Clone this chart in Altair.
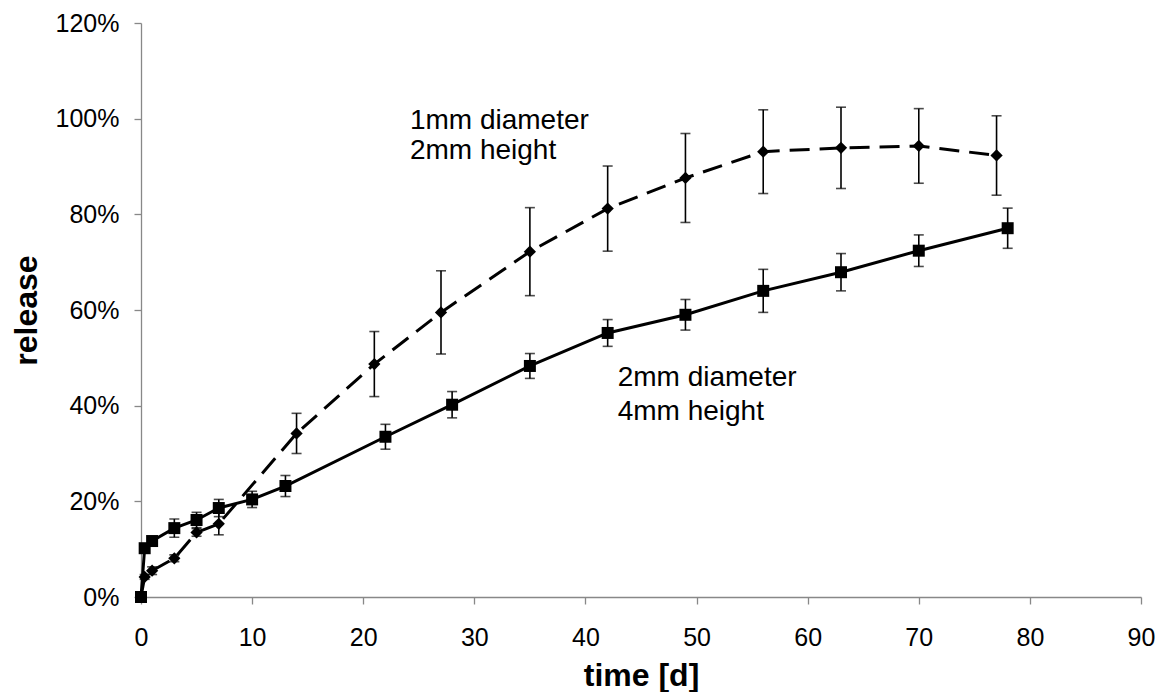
import altair as alt
import pandas as pd

# 2 mm diameter / 4 mm height  (squares, solid line)
t_sq = [0, 0.33, 1, 3, 5, 7, 10, 13, 22, 28, 35, 42, 49, 56, 63, 70, 78]
r_sq = [0, 10.2, 11.7, 14.4, 16.1, 18.6, 20.4, 23.2, 33.5, 40.2, 48.3, 55.2, 59.0, 64.0, 67.9, 72.4, 77.1]
e_sq = [0, 0.5, 0.5, 1.9, 1.6, 1.8, 1.7, 2.2, 2.6, 2.75, 2.6, 2.8, 3.2, 4.5, 3.9, 3.3, 4.2]

# 1 mm diameter / 2 mm height  (diamonds, dashed line)
t_di = [0, 0.33, 1, 3, 5, 7, 14, 21, 27, 35, 42, 49, 56, 63, 70, 77]
r_di = [0, 4.2, 5.5, 8.1, 13.5, 15.3, 34.2, 48.7, 59.5, 72.2, 81.2, 87.6, 93.1, 93.9, 94.3, 92.3]
e_di = [0, 0.5, 0.8, 0.7, 0.8, 2.3, 4.2, 6.8, 8.7, 9.2, 8.9, 9.3, 8.75, 8.5, 7.8, 8.3]

x_ticks = list(range(0, 100, 10))
y_ticks = list(range(0, 140, 20))

# annotation labels and their anchors in data units
ann_text = ["1mm diameter", "2mm height", "2mm diameter", "4mm height"]
ann_x = [24.2, 24.2, 42.9, 42.9]
ann_y = [97.8, 91.6, 44.1, 36.9]

rows = []
for s, ts, rs, es in (("sq", t_sq, r_sq, e_sq), ("di", t_di, r_di, e_di)):
    for t, r, e in zip(ts, rs, es):
        rows.append({"series": s, "t": t, "r": r, "lo": r - e, "hi": r + e})
df = pd.DataFrame(rows)
ann = pd.DataFrame({"label": ann_text, "ax": ann_x, "ay": ann_y})

FONT = "Liberation Sans"
xscale = alt.Scale(domain=[0, 90], nice=False, zero=True)
yscale = alt.Scale(domain=[0, 120], nice=False)
xaxis = alt.Axis(values=x_ticks, title="time [d]", labelPadding=21, labelFlush=False,
                 titleY=88, titleBaseline="alphabetic")
yaxis = alt.Axis(values=y_ticks, title="release", labelExpr="datum.value + '%'",
                 labelPadding=15, labelFlush=False, titleX=-105, titleY=287,
                 titleAngle=-90, titleBaseline="alphabetic", titleAlign="center")


def X(field):
    return alt.X(field, scale=xscale, axis=xaxis, title="time [d]")


def Y(field):
    return alt.Y(field, scale=yscale, axis=yaxis, title="release")


base = alt.Chart(df)

err = base.mark_rule(color="black", strokeWidth=1.6).encode(
    x=X("t:Q"), y=Y("lo:Q"), y2="hi:Q")
cap_lo = base.mark_tick(color="black", orient="horizontal", size=10, thickness=1.6).encode(
    x=X("t:Q"), y=Y("lo:Q"))
cap_hi = base.mark_tick(color="black", orient="horizontal", size=10, thickness=1.6).encode(
    x=X("t:Q"), y=Y("hi:Q"))

line_sq = base.transform_filter(alt.datum.series == "sq").mark_line(
    color="black", strokeWidth=3).encode(x=X("t:Q"), y=Y("r:Q"))
line_di = base.transform_filter(alt.datum.series == "di").mark_line(
    color="black", strokeWidth=3, strokeDash=[20, 10]).encode(x=X("t:Q"), y=Y("r:Q"))

pts_sq = base.transform_filter(alt.datum.series == "sq").mark_point(
    shape="square", filled=True, color="black", opacity=1, size=144).encode(
    x=X("t:Q"), y=Y("r:Q"))
pts_di = base.transform_filter(alt.datum.series == "di").mark_point(
    shape="diamond", filled=True, color="black", opacity=1, size=150).encode(
    x=X("t:Q"), y=Y("r:Q"))

labels = alt.Chart(ann).mark_text(
    align="left", baseline="alphabetic", font=FONT, fontSize=28, color="black").encode(
    x=X("ax:Q"), y=Y("ay:Q"), text="label:N")

chart = alt.layer(err, cap_lo, cap_hi, line_di, line_sq, pts_di, pts_sq, labels).properties(
    width=1000, height=574,
    autosize=alt.AutoSizeParams(type="none"),
    padding={"left": 133, "top": 15, "right": 14, "bottom": 95},
    background="white",
).configure_view(stroke=None).configure_axis(
    grid=False, domainColor="#888888", tickColor="#888888", domainWidth=1.3, tickWidth=1.3,
    tickSize=7, labelFont=FONT, labelFontSize=25, labelColor="black",
    titleFont=FONT, titleFontSize=32, titleFontWeight="bold", titleColor="black",
)

chart.save("out.html", embed_options={"renderer": "svg", "actions": False})
